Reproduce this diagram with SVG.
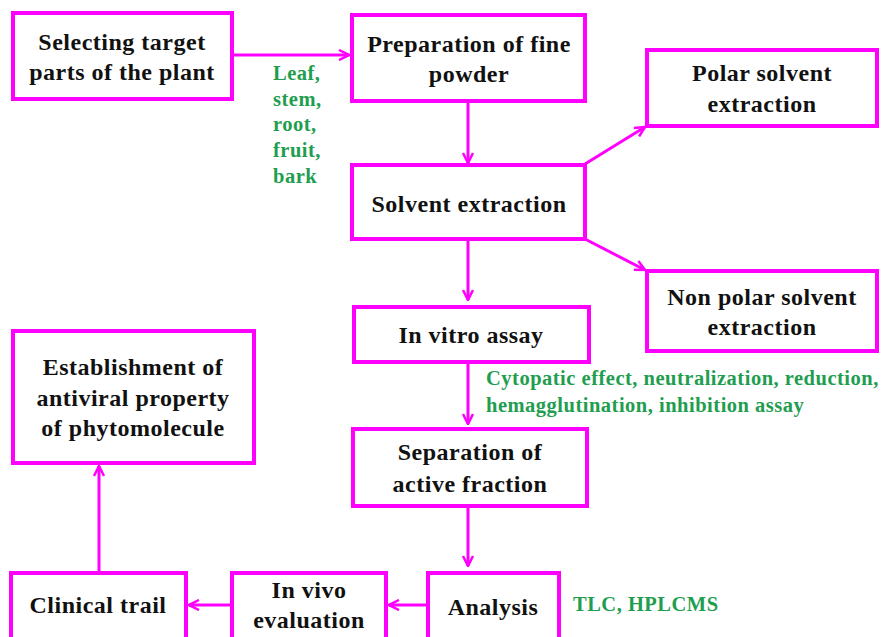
<svg xmlns="http://www.w3.org/2000/svg" width="882" height="637" viewBox="0 0 882 637">
<style>
.box{fill:#fff;stroke:#f0f;stroke-width:4}
.t{font-family:"Liberation Serif","Times New Roman",serif;font-weight:bold;font-size:24px;letter-spacing:0.5px;fill:#111;text-anchor:middle}
.g{font-family:"Liberation Serif","Times New Roman",serif;font-weight:bold;font-size:20.5px;letter-spacing:0.5px;fill:#1f9e4f}
.c{stroke:#f0f;stroke-width:3;fill:none}
</style>
<defs>
<marker id="ah" viewBox="0 0 12 12" refX="11" refY="6" markerWidth="12" markerHeight="12" markerUnits="userSpaceOnUse" orient="auto">
<path d="M1,1 L11,6 L1,11" fill="none" stroke="#f0f" stroke-width="2.5"/>
</marker>
</defs>
<rect width="882" height="637" fill="#fff"/>
<g id="connectors">
<line class="c" x1="232" y1="55" x2="349" y2="55" marker-end="url(#ah)"/>
<line class="c" x1="468" y1="101" x2="468" y2="163" marker-end="url(#ah)"/>
<line class="c" x1="585" y1="164" x2="645" y2="127" marker-end="url(#ah)"/>
<line class="c" x1="585" y1="239" x2="645" y2="270" marker-end="url(#ah)"/>
<line class="c" x1="468" y1="239" x2="468" y2="300" marker-end="url(#ah)"/>
<line class="c" x1="468" y1="362" x2="468" y2="424" marker-end="url(#ah)"/>
<line class="c" x1="468" y1="506" x2="468" y2="566" marker-end="url(#ah)"/>
<line class="c" x1="428" y1="605" x2="389" y2="605" marker-end="url(#ah)"/>
<line class="c" x1="232" y1="605" x2="189" y2="605" marker-end="url(#ah)"/>
<line class="c" x1="99" y1="573" x2="99" y2="466" marker-end="url(#ah)"/>
</g>
<g id="selecting">
<rect class="box" x="13" y="13" width="219" height="86"/>
<text class="t" x="122" y="50">Selecting target</text>
<text class="t" x="122" y="80">parts of the plant</text>
</g>
<g id="parts-label">
<text class="g" x="273" y="80">Leaf,</text>
<text class="g" x="273" y="106">stem,</text>
<text class="g" x="273" y="131">root,</text>
<text class="g" x="273" y="157">fruit,</text>
<text class="g" x="273" y="183">bark</text>
</g>
<g id="preparation">
<rect class="box" x="352" y="15" width="233" height="86"/>
<text class="t" x="469" y="52">Preparation of fine</text>
<text class="t" x="469" y="82">powder</text>
</g>
<g id="polar">
<rect class="box" x="647" y="50" width="230" height="76"/>
<text class="t" x="762" y="81">Polar solvent</text>
<text class="t" x="762" y="112">extraction</text>
</g>
<g id="solvent">
<rect class="box" x="352" y="165" width="233" height="74"/>
<text class="t" x="469" y="212">Solvent extraction</text>
</g>
<g id="nonpolar">
<rect class="box" x="647" y="271" width="230" height="80"/>
<text class="t" x="762" y="305">Non polar solvent</text>
<text class="t" x="762" y="335">extraction</text>
</g>
<g id="invitro">
<rect class="box" x="354" y="307" width="235" height="55"/>
<text class="t" x="471" y="343">In vitro assay</text>
</g>
<g id="assay-label">
<text class="g" x="486" y="385">Cytopatic effect, neutralization, reduction,</text>
<text class="g" x="486" y="412">hemagglutination, inhibition assay</text>
</g>
<g id="separation">
<rect class="box" x="353" y="429" width="234" height="77"/>
<text class="t" x="470" y="460">Separation of</text>
<text class="t" x="470" y="492">active fraction</text>
</g>
<g id="analysis">
<rect class="box" x="428" y="573" width="131" height="70"/>
<text class="t" x="493" y="615">Analysis</text>
</g>
<g id="tlc-label">
<text class="g" x="573" y="611">TLC, HPLCMS</text>
</g>
<g id="invivo">
<rect class="box" x="232" y="573" width="154" height="70"/>
<text class="t" x="309" y="598">In vivo</text>
<text class="t" x="309" y="628">evaluation</text>
</g>
<g id="clinical">
<rect class="box" x="11" y="573" width="175" height="70"/>
<text class="t" x="98" y="613">Clinical trail</text>
</g>
<g id="establishment">
<rect class="box" x="13" y="331" width="241" height="132"/>
<text class="t" x="133" y="375">Establishment of</text>
<text class="t" x="133" y="406">antiviral property</text>
<text class="t" x="133" y="436">of phytomolecule</text>
</g>
</svg>
